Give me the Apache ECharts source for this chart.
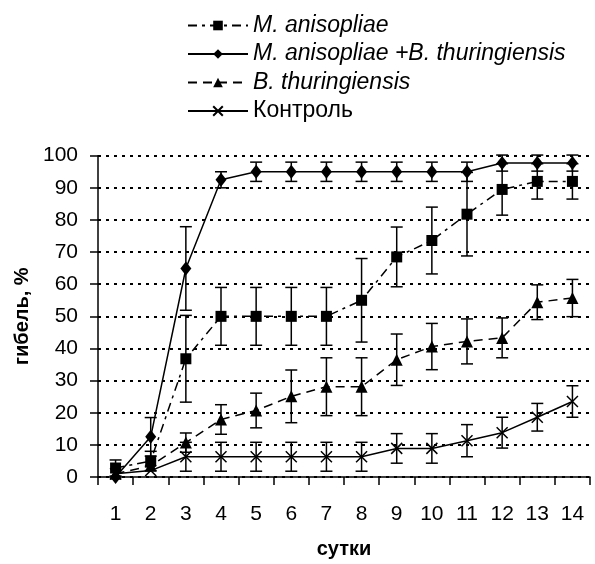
<!DOCTYPE html>
<html><head><meta charset="utf-8">
<script src="https://cdn.jsdelivr.net/npm/echarts@6/dist/echarts.min.js"></script>
<style>html,body{margin:0;padding:0;background:#fff}#c{width:595px;height:564px}</style>
</head><body><div id="c"></div>
<script>
const days = ['1','2','3','4','5','6','7','8','9','10','11','12','13','14'];
const yTicks = [0,10,20,30,40,50,60,70,80,90,100];
const names = ['M. anisopliae','M. anisopliae +B. thuringiensis','B. thuringiensis','Контроль'];
const maValues  = [2.8, 5, 36.8, 50, 50, 50, 50, 55, 68.5, 73.6, 81.8, 89.5, 92, 92];
const maErrors  = [2.5, 3, 13.5, 9, 9, 9, 9, 13, 9.3, 10.4, 13, 8, 5.5, 5.5];
const mbValues  = [0, 12.5, 64.9, 92.5, 95, 95, 95, 95, 95, 95, 95, 97.7, 97.7, 97.7];
const mbErrors  = [0, 6, 13, 2.5, 3, 3, 3, 3, 3, 3, 3, 2.5, 2.5, 2.5];
const btValues  = [1, 3.5, 10.7, 17.9, 20.7, 25.1, 28.1, 28.1, 36.5, 40.6, 42.2, 43.3, 54.4, 55.7];
const btErrors  = [0, 0, 3, 4.6, 5.4, 8.2, 9, 9, 8, 7.2, 7, 6.2, 5.4, 5.8];
const ctValues  = [1, 2, 6.3, 6.3, 6.3, 6.3, 6.3, 6.3, 8.9, 8.9, 11.3, 13.8, 18.6, 23.5];
const ctErrors  = [0, 0, 4.5, 4.5, 4.5, 4.5, 4.5, 4.5, 4.6, 4.6, 5, 4.8, 4.3, 4.9];

const FONT = 'Liberation Sans, Arial, sans-serif';
const crossPath = 'path://M0,0L10,10M10,0L0,10';

function errSeries(vals, errs){
  return {
    type:'custom', silent:true, z:1,
    data: vals.map((v,i)=>[i, v-errs[i], v+errs[i]]),
    renderItem:function(params, api){
      const lo = api.coord([api.value(0), api.value(1)]);
      const hi = api.coord([api.value(0), api.value(2)]);
      if (Math.abs(hi[1]-lo[1]) < 1) return null;
      const w = 6;
      const st = {stroke:'#000', lineWidth:1.5};
      return {type:'group', children:[
        {type:'line', shape:{x1:lo[0],y1:lo[1],x2:hi[0],y2:hi[1]}, style:st},
        {type:'line', shape:{x1:lo[0]-w,y1:lo[1],x2:lo[0]+w,y2:lo[1]}, style:st},
        {type:'line', shape:{x1:hi[0]-w,y1:hi[1],x2:hi[0]+w,y2:hi[1]}, style:st}
      ]};
    }
  };
}

const chart = echarts.init(document.getElementById('c'), null, {renderer:'canvas'});
chart.setOption({
  animation:false,
  backgroundColor:'#fff',
  legend:{
    orient:'vertical', left:182, top:9, itemGap:5.5, itemWidth:60, itemHeight:12,
    textStyle:{fontFamily:FONT, fontSize:23, color:'#000'},
    data:[
      {name:names[0], textStyle:{fontStyle:'italic'}},
      {name:names[1], textStyle:{fontStyle:'italic'}},
      {name:names[2], textStyle:{fontStyle:'italic'}},
      {name:names[3]}
    ]
  },
  grid:{left:98, right:5, top:155.7, bottom:82.3, containLabel:false},
  xAxis:{
    type:'category', data:days, boundaryGap:true,
    name:'сутки', nameLocation:'middle', nameGap:62,
    nameTextStyle:{fontFamily:FONT, fontSize:20, fontWeight:'bold', color:'#000'},
    axisLine:{lineStyle:{color:'#000', width:1.5}},
    axisTick:{show:true, inside:false, length:8, alignWithLabel:false, lineStyle:{color:'#000', width:1.5}},
    axisLabel:{fontFamily:FONT, fontSize:21, color:'#000', margin:27},
    splitLine:{show:false}
  },
  yAxis:{
    type:'value', min:0, max:100, interval:10,
    name:'гибель, %', nameLocation:'middle', nameGap:60,
    nameTextStyle:{fontFamily:FONT, fontSize:20, fontWeight:'bold', color:'#000'},
    axisLine:{show:true, lineStyle:{color:'#000', width:1.5}},
    axisTick:{show:true, inside:false, length:8, lineStyle:{color:'#000', width:1.5}},
    axisLabel:{fontFamily:FONT, fontSize:21, color:'#000', margin:20},
    splitLine:{show:true, lineStyle:{color:'#000', width:2, type:[3,5]}}
  },
  series:[
    errSeries(maValues, maErrors),
    errSeries(mbValues, mbErrors),
    errSeries(btValues, btErrors),
    errSeries(ctValues, ctErrors),
    {name:names[0], type:'line', data:maValues, z:3, symbol:'rect', symbolSize:11,
      itemStyle:{color:'#000'}, lineStyle:{color:'#000', width:1.5, type:[9,5,3,5]}},
    {name:names[1], type:'line', data:mbValues, z:3, symbol:'diamond', symbolSize:[11,14],
      itemStyle:{color:'#000'}, lineStyle:{color:'#000', width:1.5, type:'solid'}},
    {name:names[2], type:'line', data:btValues, z:3, symbol:'triangle', symbolSize:12,
      itemStyle:{color:'#000'}, lineStyle:{color:'#000', width:1.5, type:[9,6]}},
    {name:names[3], type:'line', data:ctValues, z:3, symbol:crossPath, symbolSize:11,
      itemStyle:{color:'transparent', borderColor:'#000', borderWidth:1.5}, lineStyle:{color:'#000', width:1.5, type:'solid'}}
  ]
});
</script>
</body></html>
